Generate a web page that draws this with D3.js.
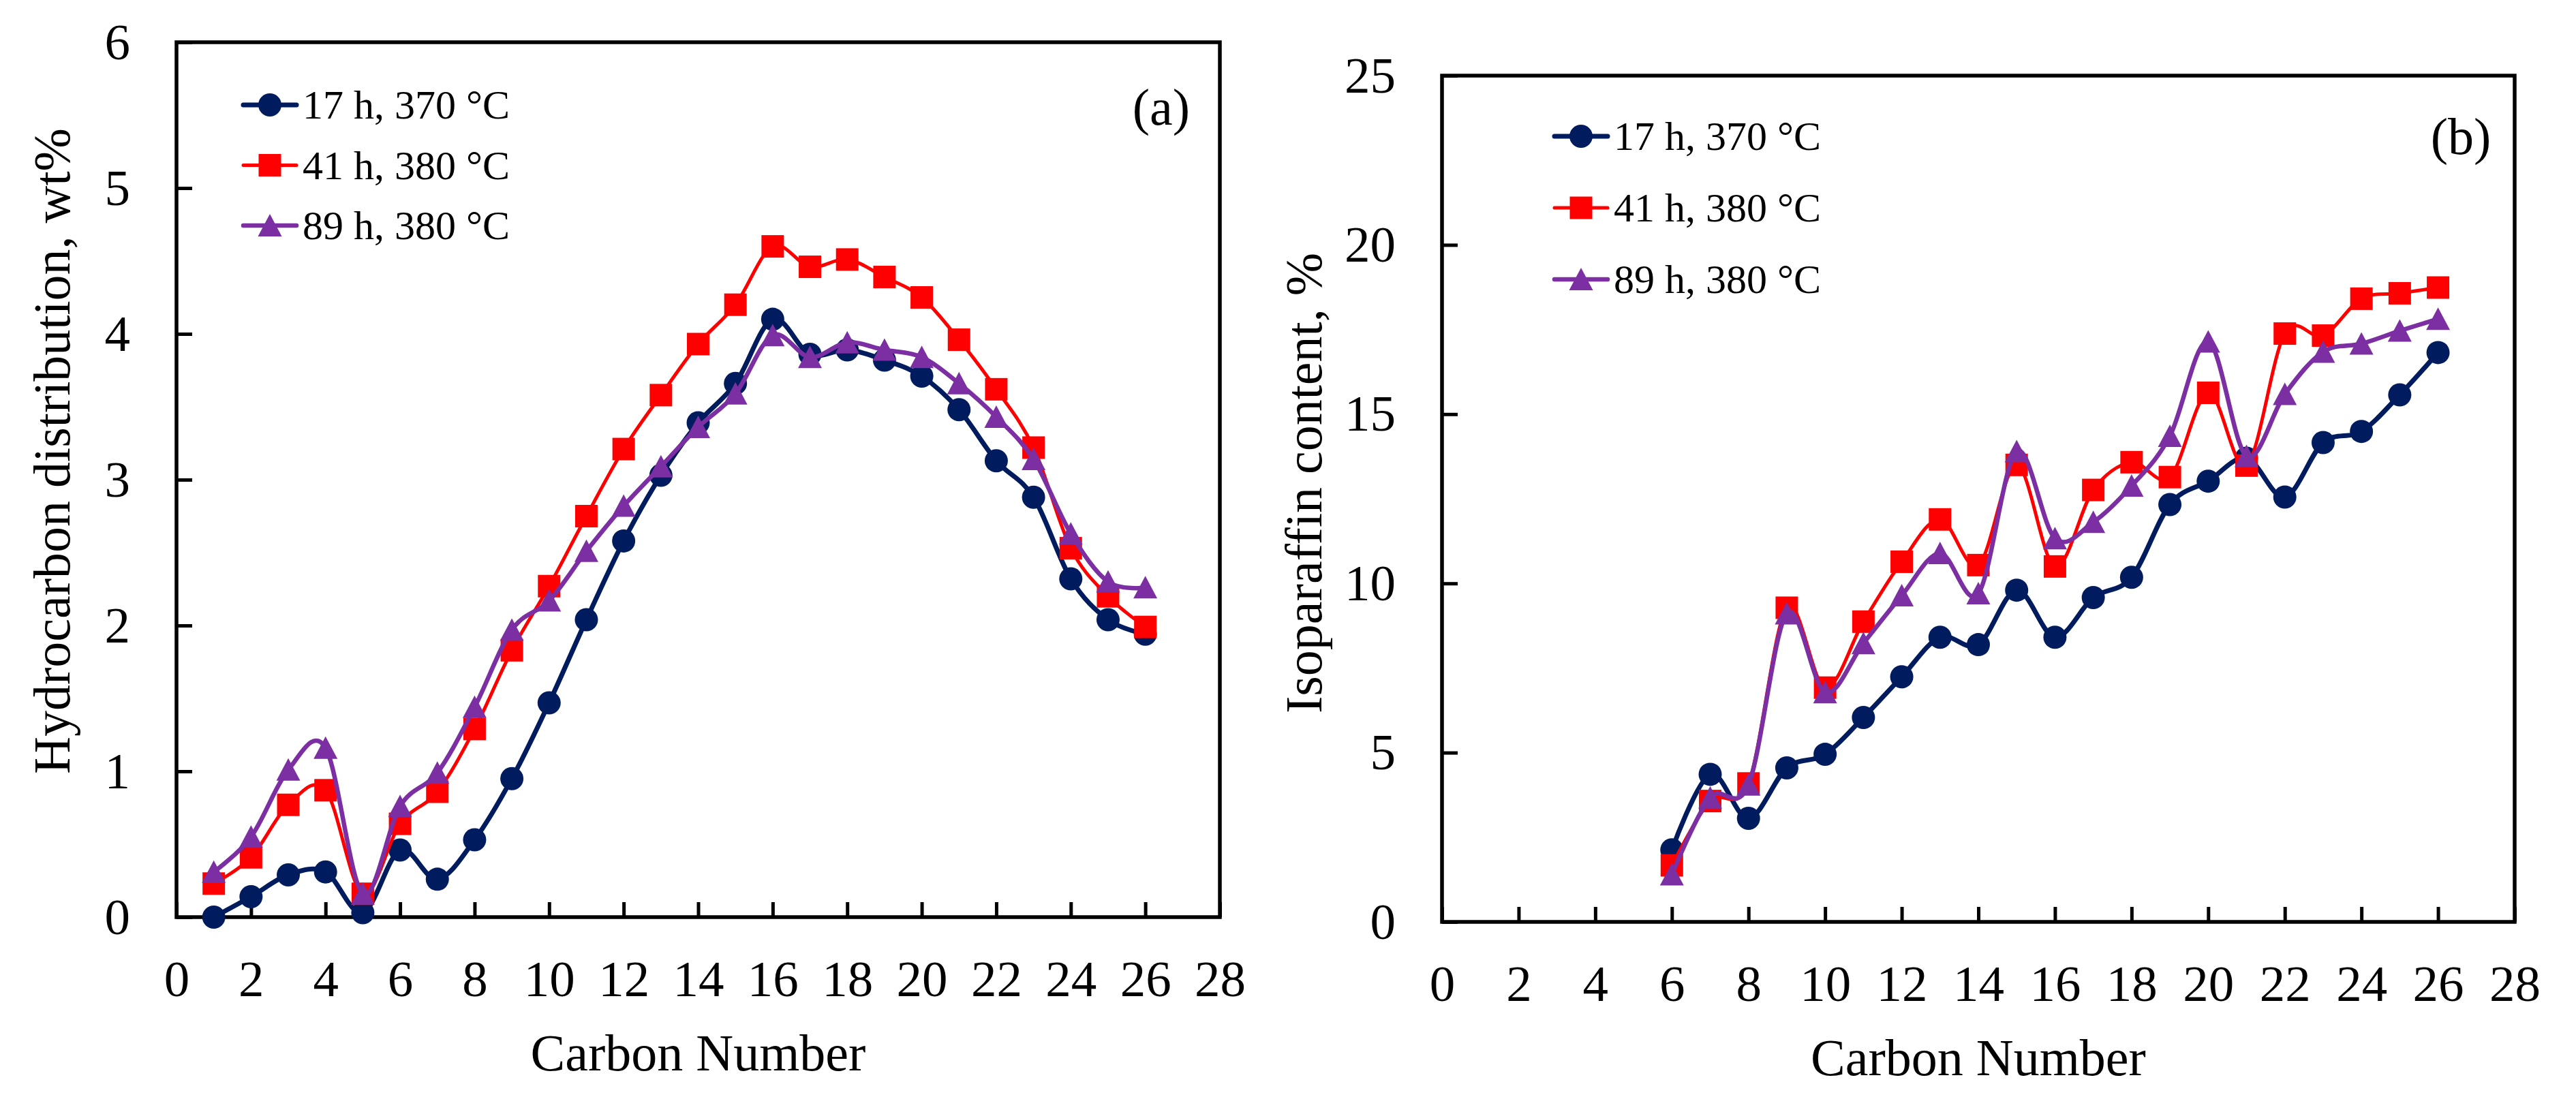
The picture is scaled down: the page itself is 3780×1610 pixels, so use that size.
<!DOCTYPE html>
<html>
<head>
<meta charset="utf-8">
<script src="https://cdn.jsdelivr.net/npm/d3@7"></script>
<style>
  html, body { margin: 0; padding: 0; background: #fff; }
  svg text { font-family: "Liberation Serif", "Times New Roman", serif; fill: #000; }
</style>
</head>
<body>
<div id="chart"></div>
<script>
// 0. data
const carbonA = [1, 2, 3, 4, 5, 6, 7, 8, 9, 10, 11, 12, 13, 14, 15, 16, 17, 18, 19, 20, 21, 22, 23, 24, 25, 26];
const carbonB = [6, 7, 8, 9, 10, 11, 12, 13, 14, 15, 16, 17, 18, 19, 20, 21, 22, 23, 24, 25, 26];

// (a) hydrocarbon distribution, wt%
const hydro17 = [0.00, 0.14, 0.29, 0.31, 0.03, 0.46, 0.26, 0.53, 0.95, 1.47, 2.04, 2.58, 3.03, 3.39, 3.66, 4.10, 3.86, 3.89, 3.82, 3.71, 3.48, 3.13, 2.88, 2.32, 2.04, 1.94];
const hydro41 = [0.23, 0.41, 0.77, 0.87, 0.16, 0.64, 0.86, 1.29, 1.83, 2.27, 2.75, 3.21, 3.58, 3.93, 4.20, 4.60, 4.46, 4.51, 4.39, 4.25, 3.96, 3.62, 3.22, 2.53, 2.20, 1.99];
const hydro89 = [0.31, 0.55, 1.01, 1.16, 0.16, 0.76, 0.99, 1.44, 1.97, 2.17, 2.51, 2.82, 3.09, 3.36, 3.59, 3.99, 3.84, 3.94, 3.89, 3.84, 3.66, 3.43, 3.14, 2.63, 2.30, 2.26];

// (b) isoparaffin content, %
const iso17 = [2.13, 4.36, 3.06, 4.55, 4.95, 6.04, 7.24, 8.41, 8.19, 9.80, 8.41, 9.58, 10.18, 12.33, 13.02, 13.70, 12.55, 14.16, 14.49, 15.57, 16.82];
const iso41 = [1.67, 3.57, 4.09, 9.28, 6.92, 8.87, 10.64, 11.89, 10.54, 13.50, 10.50, 12.76, 13.58, 13.14, 15.63, 13.48, 17.38, 17.32, 18.41, 18.57, 18.74];
const iso89 = [1.40, 3.67, 4.05, 9.11, 6.78, 8.23, 9.64, 10.89, 9.70, 13.90, 11.33, 11.81, 12.88, 14.35, 17.14, 13.76, 15.59, 16.84, 17.08, 17.46, 17.81];

const seriesNames = ['17 h, 370 °C', '41 h, 380 °C', '89 h, 380 °C'];
const xTicks = [0, 2, 4, 6, 8, 10, 12, 14, 16, 18, 20, 22, 24, 26, 28];
const yTicksA = [0, 1, 2, 3, 4, 5, 6];
const yTicksB = [0, 5, 10, 15, 20, 25];

// 1. styles per series
const seriesStyle = [
  { color: '#001B5E', width: 7,   marker: 'circle' },
  { color: '#FF0000', width: 5,   marker: 'square' },
  { color: '#7B2FA2', width: 6.5, marker: 'triangle' }
];

// 2. canvas
const W = 3780, H = 1610;
const svg = d3.select('#chart').append('svg')
  .attr('width', W)
  .attr('height', H)
  .attr('viewBox', `0 0 ${W} ${H}`);

svg.append('rect').attr('width', W).attr('height', H).attr('fill', '#fff');

// marker drawer
function drawMarker(g, type, x, y, color) {
  if (type === 'circle') {
    g.append('circle').attr('cx', x).attr('cy', y).attr('r', 17).attr('fill', color);
  } else if (type === 'square') {
    g.append('rect').attr('x', x - 16.5).attr('y', y - 16.5)
      .attr('width', 33).attr('height', 33).attr('fill', color);
  } else {
    const p = d3.path();
    p.moveTo(x, y - 17);
    p.lineTo(x + 17.5, y + 16);
    p.lineTo(x - 17.5, y + 16);
    p.closePath();
    g.append('path').attr('d', p.toString()).attr('fill', color);
  }
}

// 3. one panel
function drawPanel(cfg) {
  const g = svg.append('g');

  const x = d3.scaleLinear().domain([0, 28]).range([cfg.left, cfg.right]);
  const y = d3.scaleLinear().domain(cfg.yDomain).range([cfg.bottom, cfg.top]);

  // 3.1 axes with inward ticks
  const xAxis = d3.axisBottom(x).tickValues(xTicks).tickFormat(d3.format('d'))
    .tickSizeInner(-22).tickSizeOuter(0).tickPadding(63);
  const gx = g.append('g').attr('transform', `translate(0,${cfg.bottom})`).call(xAxis);

  const yAxis = d3.axisLeft(y).tickValues(cfg.yTicks).tickFormat(d3.format('d'))
    .tickSizeInner(-23).tickSizeOuter(0).tickPadding(68);
  const gy = g.append('g').attr('transform', `translate(${cfg.left},0)`).call(yAxis);

  [gx, gy].forEach(a => {
    a.select('.domain').remove();
    a.selectAll('.tick line').attr('stroke', '#000').attr('stroke-width', 5);
    a.selectAll('.tick text').style('font-size', '75px').attr('fill', '#000');
  });

  // 3.2 frame
  g.append('rect')
    .attr('x', cfg.left).attr('y', cfg.top)
    .attr('width', cfg.right - cfg.left).attr('height', cfg.bottom - cfg.top)
    .attr('fill', 'none').attr('stroke', '#000').attr('stroke-width', 5.5);

  // 3.3 series: smoothed line then markers
  const line = d3.line()
    .x(d => x(d[0]))
    .y(d => y(d[1]))
    .curve(d3.curveCatmullRom.alpha(0));

  cfg.series.forEach((vals, i) => {
    const st = seriesStyle[i];
    const pts = cfg.carbon.map((c, k) => [c, vals[k]]);
    g.append('path')
      .attr('d', line(pts))
      .attr('fill', 'none')
      .attr('stroke', st.color)
      .attr('stroke-width', st.width)
      .attr('stroke-linejoin', 'round')
      .attr('stroke-linecap', 'round');
    pts.forEach(p => drawMarker(g, st.marker, x(p[0]), y(p[1]), st.color));
  });

  // 3.4 legend
  seriesNames.forEach((name, i) => {
    const st = seriesStyle[i];
    const ly = cfg.legendY + i * cfg.legendStep;
    g.append('line')
      .attr('x1', cfg.legendX - 39).attr('x2', cfg.legendX + 39)
      .attr('y1', ly).attr('y2', ly)
      .attr('stroke', st.color).attr('stroke-width', st.width)
      .attr('stroke-linecap', 'round');
    drawMarker(g, st.marker, cfg.legendX, ly, st.color);
    g.append('text')
      .attr('x', cfg.legendX + 48).attr('y', ly)
      .attr('dy', '0.34em')
      .style('font-size', '60px')
      .text(name);
  });

  // 3.5 panel letter
  g.append('text')
    .attr('x', cfg.tagX).attr('y', cfg.tagY)
    .attr('dy', '0.34em')
    .attr('text-anchor', 'middle')
    .style('font-size', '76px')
    .text(cfg.tag);

  // 3.6 axis titles
  g.append('text')
    .attr('x', (cfg.left + cfg.right) / 2).attr('y', cfg.bottom + 199)
    .attr('dy', '0.34em')
    .attr('text-anchor', 'middle')
    .style('font-size', '76px')
    .text('Carbon Number');

  g.append('text')
    .attr('transform', `translate(${cfg.yTitleX},${cfg.yTitleY}) rotate(-90)`)
    .attr('text-anchor', 'middle')
    .style('font-size', '76px')
    .text(cfg.yTitle);
}

// 4. two panels
drawPanel({
  left: 259, right: 1790, top: 62, bottom: 1346,
  yDomain: [0, 6], yTicks: yTicksA,
  carbon: carbonA, series: [hydro17, hydro41, hydro89],
  legendX: 396, legendY: 154, legendStep: 88.5,
  tag: '(a)', tagX: 1704, tagY: 157,
  yTitle: 'Hydrocarbon distribution, wt%', yTitleX: 102, yTitleY: 662
});

drawPanel({
  left: 2116, right: 3690, top: 111, bottom: 1353,
  yDomain: [0, 25], yTicks: yTicksB,
  carbon: carbonB, series: [iso17, iso41, iso89],
  legendX: 2320, legendY: 200, legendStep: 105,
  tag: '(b)', tagX: 3611, tagY: 200,
  yTitle: 'Isoparaffin content, %', yTitleX: 1939, yTitleY: 709
});
</script>
</body>
</html>
